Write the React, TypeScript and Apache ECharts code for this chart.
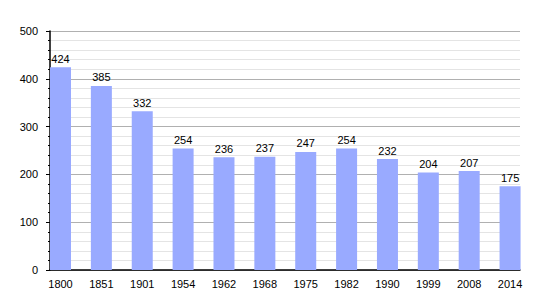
import React, { useEffect, useRef } from "react";
import * as echarts from "echarts";

const years = ["1800", "1851", "1901", "1954", "1962", "1968", "1975", "1982", "1990", "1999", "2008", "2014"];
const population = [424, 385, 332, 254, 236, 237, 247, 254, 232, 204, 207, 175];

export default function App() {
  const ref = useRef<HTMLDivElement>(null);
  useEffect(() => {
    if (!ref.current) return;
    const chart = echarts.init(ref.current, null, { renderer: "svg" });
    const font = "'Liberation Sans', Arial, sans-serif";
    chart.setOption({
      animation: false,
      backgroundColor: "#ffffff",
      grid: { left: 50, right: 30, top: 31, bottom: 30 },
      xAxis: {
        type: "value",
        min: -0.257,
        max: 11.243,
        splitLine: { show: false },
        axisTick: { show: false },
        axisLine: { show: true, onZero: false, lineStyle: { color: "#000", width: 1.5 } },
        axisLabel: {
          showMinLabel: true,
          showMaxLabel: true,
          customValues: years.map((_, i) => i),
          formatter: (v: number) => years[Math.round(v)] ?? "",
          color: "#000",
          fontFamily: font,
          fontSize: 11,
          margin: 8,
        },
      },
      yAxis: {
        type: "value",
        min: 0,
        max: 500,
        interval: 100,
        axisLine: { show: true, onZero: false, lineStyle: { color: "#000", width: 1.5 } },
        axisTick: { show: true, length: 4, lineStyle: { color: "#000" } },
        minorTick: { show: true, splitNumber: 5, length: 2, lineStyle: { color: "#000" } },
        splitLine: { show: true, lineStyle: { color: "#b0b0b0", width: 1 } },
        minorSplitLine: { show: true, lineStyle: { color: "#e4e4e4", width: 1 } },
        axisLabel: { color: "#000", fontFamily: font, fontSize: 11, margin: 12 },
      },
      series: [
        {
          type: "bar",
          barWidth: 21,
          data: population.map((v, i) => [i, v]),
          itemStyle: { color: "#99aaff" },
          label: {
            show: true,
            position: "top",
            distance: 3,
            color: "#000",
            fontFamily: font,
            fontSize: 11,
            formatter: (p: any) => String(p.value[1]),
          },
        },
      ],
    });
    return () => chart.dispose();
  }, []);
  return <div ref={ref} style={{ width: 550, height: 300, position: "absolute", left: 0, top: 0 }} />;
}
